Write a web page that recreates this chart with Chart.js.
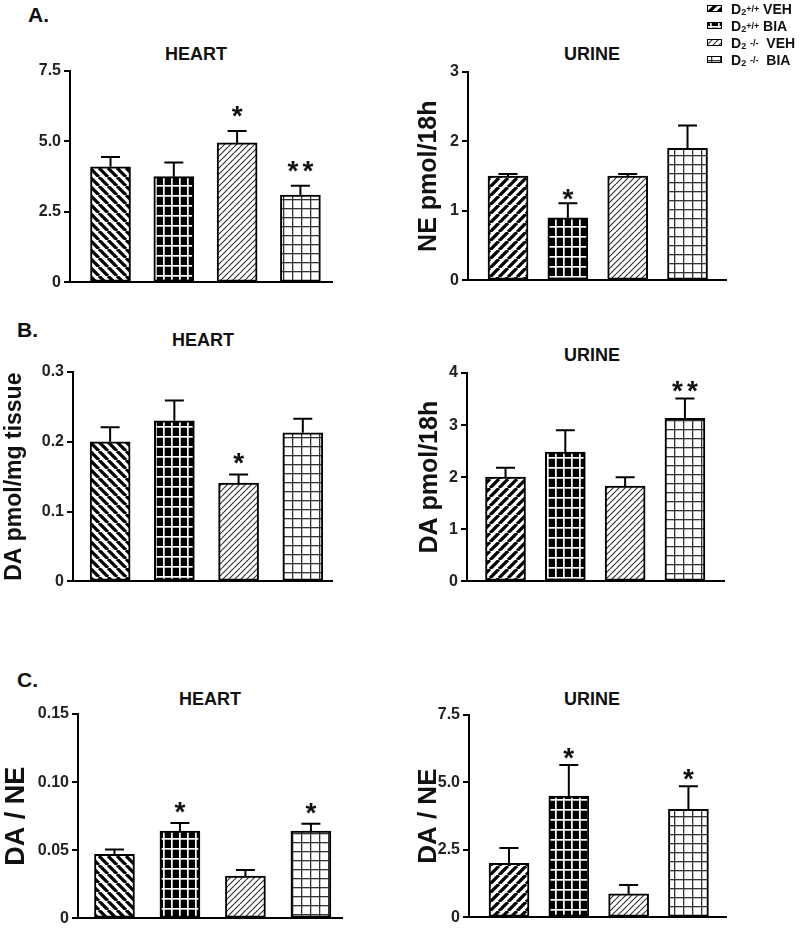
<!DOCTYPE html>
<html>
<head>
<meta charset="utf-8">
<script src="https://cdn.jsdelivr.net/npm/chart.js@4.4.1/dist/chart.umd.min.js"></script>
<style>
html, body { margin: 0; padding: 0; background: #fff; overflow: hidden; }
body { width: 800px; height: 931px; position: relative; font-family: "Liberation Sans", Arial, sans-serif; color: #111; }
canvas.chart { position: absolute; }
.lbl { position: absolute; font-weight: bold; line-height: 1; white-space: nowrap; }
.ttl { font-size: 18px; transform: translateX(-50%); }
.pnl { font-size: 21px; }
#legend { position: absolute; left: 707px; top: 0; font-size: 14px; font-weight: bold; }
#legend div { height: 17px; display: flex; align-items: center; }
#legend canvas { margin-right: 9px; }
#legend sub, #legend sup { font-size: 9px; line-height: 0; }
#legend sub { position: relative; top: 3px; }
</style>
</head>
<body>

<div class="lbl pnl" style="left:28px;top:4px">A.</div>
<div class="lbl pnl" style="left:17px;top:319px">B.</div>
<div class="lbl pnl" style="left:17px;top:669px">C.</div>

<div class="lbl ttl" style="left:196px;top:45px">HEART</div>
<div class="lbl ttl" style="left:592px;top:45px">URINE</div>
<div class="lbl ttl" style="left:203px;top:331px">HEART</div>
<div class="lbl ttl" style="left:592px;top:346px">URINE</div>
<div class="lbl ttl" style="left:210px;top:690px">HEART</div>
<div class="lbl ttl" style="left:592px;top:690px">URINE</div>

<div id="legend">
  <div><canvas id="sw0" width="15" height="7"></canvas>D<sub>2</sub><sup>+/+</sup>&nbsp;VEH</div>
  <div><canvas id="sw1" width="15" height="7"></canvas>D<sub>2</sub><sup>+/+</sup>&nbsp;BIA</div>
  <div><canvas id="sw2" width="15" height="7"></canvas>D<sub>2</sub>&nbsp;<sup>-/-</sup>&nbsp;&nbsp;VEH</div>
  <div><canvas id="sw3" width="15" height="7"></canvas>D<sub>2</sub>&nbsp;<sup>-/-</sup>&nbsp;&nbsp;BIA</div>
</div>

<canvas class="chart" id="heartNE"></canvas>
<canvas class="chart" id="urineNE"></canvas>
<canvas class="chart" id="heartDA"></canvas>
<canvas class="chart" id="urineDA"></canvas>
<canvas class="chart" id="heartRatio"></canvas>
<canvas class="chart" id="urineRatio"></canvas>

<script>
// groupes
const groups = ['D2+/+ VEH', 'D2+/+ BIA', 'D2-/- VEH', 'D2-/- BIA'];

// A. NE
const heartNE = [4.1, 3.75, 4.95, 3.1];
const heartNEErr = [0.35, 0.5, 0.42, 0.33];
const heartNEStars = ['', '', '*', '**'];
const heartNETicks = [0, 2.5, 5, 7.5];
const heartNETickLabels = ['0', '2.5', '5.0', '7.5'];

const urineNE = [1.5, 0.9, 1.5, 1.9];
const urineNEErr = [0.03, 0.21, 0.03, 0.33];
const urineNEStars = ['', '*', '', ''];
const urineNETicks = [0, 1, 2, 3];
const urineNETickLabels = ['0', '1', '2', '3'];

// B. DA
const heartDA = [0.2, 0.23, 0.141, 0.213];
const heartDAErr = [0.021, 0.029, 0.012, 0.02];
const heartDAStars = ['', '', '*', ''];
const heartDATicks = [0, 0.1, 0.2, 0.3];
const heartDATickLabels = ['0', '0.1', '0.2', '0.3'];

const urineDA = [2.0, 2.48, 1.83, 3.13];
const urineDAErr = [0.18, 0.42, 0.17, 0.38];
const urineDAStars = ['', '', '', '**'];
const urineDATicks = [0, 1, 2, 3, 4];
const urineDATickLabels = ['0', '1', '2', '3', '4'];

// C. DA / NE
const heartRatio = [0.047, 0.064, 0.031, 0.064];
const heartRatioErr = [0.0035, 0.006, 0.0045, 0.0055];
const heartRatioStars = ['', '*', '', '*'];
const heartRatioTicks = [0, 0.05, 0.1, 0.15];
const heartRatioTickLabels = ['0', '0.05', '0.10', '0.15'];

const urineRatio = [2.0, 4.5, 0.87, 4.0];
const urineRatioErr = [0.57, 1.15, 0.33, 0.86];
const urineRatioStars = ['', '*', '', '*'];
const urineRatioTicks = [0, 2.5, 5, 7.5];
const urineRatioTickLabels = ['0', '2.5', '5.0', '7.5'];

const FONT = '"Liberation Sans", Arial, sans-serif';
Chart.defaults.font.family = FONT;

// Schraffuren
function makePattern(kind) {
  const t = document.createElement('canvas');
  const c = t.getContext('2d');
  if (kind === 'thickBack' || kind === 'thickFwd' || kind === 'thin') {
    const n = kind === 'thin' ? 6 : 9;
    t.width = n; t.height = n;
    c.fillStyle = '#fff';
    c.fillRect(0, 0, n, n);
    c.strokeStyle = kind === 'thin' ? '#333' : '#000';
    c.lineWidth = kind === 'thin' ? 1.2 : 3.3;
    c.beginPath();
    for (let k = -1; k <= 1; k++) {
      if (kind === 'thickBack') {
        c.moveTo(k * n, 0); c.lineTo(k * n + n, n);
      } else {
        c.moveTo(k * n, n); c.lineTo(k * n + n, 0);
      }
    }
    c.stroke();
  } else if (kind === 'gridDark') {
    t.width = 8; t.height = 10;
    c.fillStyle = '#000';
    c.fillRect(0, 0, 8, 10);
    c.fillStyle = '#fff';
    c.fillRect(3, 0, 1.7, 10);
    c.fillRect(0, 4, 8, 1.7);
  } else {
    t.width = 9; t.height = 9;
    c.fillStyle = '#fff';
    c.fillRect(0, 0, 9, 9);
    c.fillStyle = '#333';
    c.fillRect(4, 0, 1.3, 9);
    c.fillRect(0, 4, 9, 1.3);
  }
  return c.createPattern(t, 'repeat');
}

const heartFills = [makePattern('thickBack'), makePattern('gridDark'), makePattern('thin'), makePattern('gridLight')];
const urineFills = [makePattern('thickFwd'), makePattern('gridDark'), makePattern('thin'), makePattern('gridLight')];

// Fehlerbalken und Sterne
const errorBarPlugin = {
  id: 'errorBars',
  afterDatasetsDraw(chart, args, opts) {
    const ctx = chart.ctx;
    const y = chart.scales.y;
    const meta = chart.getDatasetMeta(0);
    ctx.save();
    ctx.strokeStyle = '#000';
    ctx.lineWidth = 2;
    ctx.fillStyle = '#111';
    ctx.font = 'bold 28px ' + FONT;
    ctx.textAlign = 'center';
    ctx.textBaseline = 'alphabetic';
    meta.data.forEach((bar, i) => {
      const val = chart.data.datasets[0].data[i].y;
      const top = y.getPixelForValue(val + opts.errors[i]);
      ctx.beginPath();
      ctx.moveTo(bar.x, bar.y);
      ctx.lineTo(bar.x, top);
      ctx.moveTo(bar.x - 9.5, top);
      ctx.lineTo(bar.x + 9.5, top);
      ctx.stroke();
      const s = opts.stars[i];
      if (s) {
        const base = top - opts.starGap + 0.58 * 28;
        for (let k = 0; k < s.length; k++) {
          const dx = (k - (s.length - 1) / 2) * 15;
          ctx.fillText('*', bar.x + dx, base);
        }
      }
    });
    ctx.restore();
  }
};

function makeChart(id, cfg) {
  const cv = document.getElementById(id);
  const padTop = 20;
  cv.width = cfg.right - cfg.left;
  cv.height = cfg.zeroY - cfg.topY + padTop + cfg.padBottom;
  cv.style.left = cfg.left + 'px';
  cv.style.top = (cfg.topY - padTop) + 'px';

  return new Chart(cv, {
    type: 'bar',
    data: {
      labels: groups,
      datasets: [{
        data: cfg.values.map((v, i) => ({ x: i, y: v })),
        backgroundColor: cfg.fills,
        borderColor: '#000',
        borderWidth: 2,
        borderSkipped: false,
        barThickness: 40
      }]
    },
    options: {
      responsive: false,
      animation: false,
      devicePixelRatio: 1,
      layout: { padding: { top: padTop, bottom: cfg.padBottom, left: 0, right: 0 } },
      plugins: {
        legend: { display: false },
        tooltip: { enabled: false },
        errorBars: { errors: cfg.errors, stars: cfg.stars, starGap: cfg.starGap }
      },
      scales: {
        x: {
          type: 'linear',
          offset: false,
          min: cfg.xMin,
          max: cfg.xMax,
          ticks: { display: false },
          grid: { display: false },
          border: { display: true, color: '#000', width: 2 },
          afterFit: s => { s.height = 0; }
        },
        y: {
          min: 0,
          max: cfg.ticks[cfg.ticks.length - 1],
          afterBuildTicks: s => { s.ticks = cfg.ticks.map(v => ({ value: v })); },
          afterFit: s => { s.width = cfg.axisX - cfg.left; },
          ticks: {
            callback: (v, i) => cfg.tickLabels[i],
            color: '#222',
            font: { size: 16, weight: 'bold' },
            padding: 3
          },
          grid: { display: true, drawOnChartArea: false, drawTicks: true, tickLength: 6, color: '#000', lineWidth: 2 },
          border: { display: true, color: '#000', width: 2 },
          title: {
            display: !!cfg.yTitle,
            text: cfg.yTitle || '',
            color: '#111',
            font: { size: cfg.yTitleSize || 24, weight: 'bold' },
            padding: { top: cfg.yTitlePad || 0, bottom: 0 }
          }
        }
      }
    },
    plugins: [errorBarPlugin]
  });
}

makeChart('heartNE', {
  values: heartNE, errors: heartNEErr, stars: heartNEStars, ticks: heartNETicks, tickLabels: heartNETickLabels,
  fills: heartFills, left: 0, axisX: 70, right: 333, topY: 71, zeroY: 283, padBottom: 12,
  xMin: -0.64, xMax: 3.515, starGap: 22
});
makeChart('urineNE', {
  values: urineNE, errors: urineNEErr, stars: urineNEStars, ticks: urineNETicks, tickLabels: urineNETickLabels,
  fills: urineFills, left: 400, axisX: 468, right: 727, topY: 72, zeroY: 281, padBottom: 12,
  xMin: -0.669, xMax: 3.66, starGap: 12, yTitle: 'NE pmol/18h', yTitleSize: 25, yTitlePad: 14
});
makeChart('heartDA', {
  values: heartDA, errors: heartDAErr, stars: heartDAStars, ticks: heartDATicks, tickLabels: heartDATickLabels,
  fills: heartFills, left: 0, axisX: 73, right: 333, topY: 372, zeroY: 582, padBottom: 12,
  xMin: -0.578, xMax: 3.47, starGap: 19, yTitle: 'DA pmol/mg tissue', yTitleSize: 23, yTitlePad: 1
});
makeChart('urineDA', {
  values: urineDA, errors: urineDAErr, stars: urineDAStars, ticks: urineDATicks, tickLabels: urineDATickLabels,
  fills: urineFills, left: 400, axisX: 467, right: 725, topY: 373, zeroY: 582, padBottom: 12,
  xMin: -0.644, xMax: 3.67, starGap: 15, yTitle: 'DA pmol/18h', yTitleSize: 25, yTitlePad: 15
});
makeChart('heartRatio', {
  values: heartRatio, errors: heartRatioErr, stars: heartRatioStars, ticks: heartRatioTicks, tickLabels: heartRatioTickLabels,
  fills: heartFills, left: 0, axisX: 78, right: 343, topY: 714, zeroY: 925, padBottom: 6,
  xMin: -0.557, xMax: 3.49, starGap: 18, yTitle: 'DA / NE', yTitleSize: 27, yTitlePad: 0
});
makeChart('urineRatio', {
  values: urineRatio, errors: urineRatioErr, stars: urineRatioStars, ticks: urineRatioTicks, tickLabels: urineRatioTickLabels,
  fills: urineFills, left: 400, axisX: 469, right: 727, topY: 715, zeroY: 924, padBottom: 6,
  xMin: -0.669, xMax: 3.645, starGap: 14, yTitle: 'DA / NE', yTitleSize: 26, yTitlePad: 13
});

// Legende
['thickFwd', 'gridDark', 'thin', 'gridLight'].forEach((k, i) => {
  const c = document.getElementById('sw' + i).getContext('2d');
  c.fillStyle = makePattern(k);
  c.fillRect(0, 0, 15, 7);
  c.strokeStyle = '#000';
  c.lineWidth = 1;
  c.strokeRect(0.5, 0.5, 14, 6);
});
</script>
</body>
</html>
